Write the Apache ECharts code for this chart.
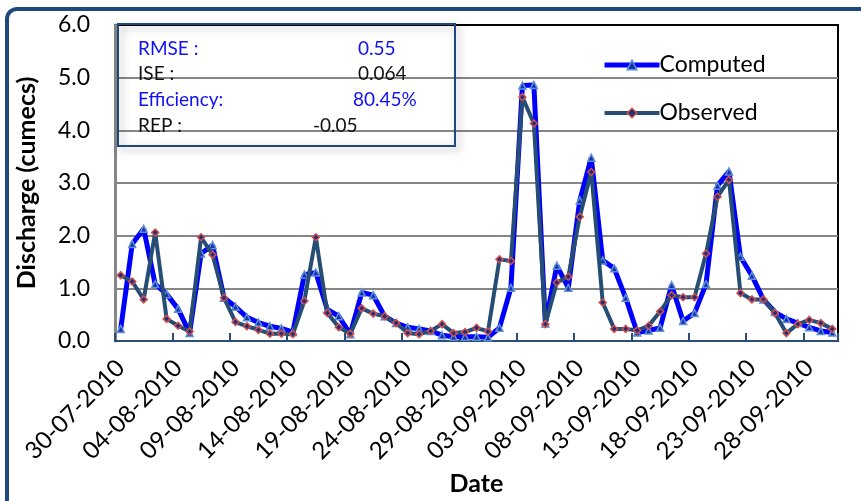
<!DOCTYPE html>
<html>
<head>
<meta charset="utf-8">
<script src="https://cdn.jsdelivr.net/npm/echarts@6/dist/echarts.min.js"></script>
<style>
html,body{margin:0;padding:0;background:#fff;}
#chart{width:861px;height:501px;}
</style>
</head>
<body>
<div id="chart"></div>
<script>
// Dates (categories): 30-07-2010 .. 30-09-2010
const categories = [
  '30-07-2010','31-07-2010',
  '01-08-2010','02-08-2010','03-08-2010','04-08-2010','05-08-2010','06-08-2010','07-08-2010','08-08-2010','09-08-2010','10-08-2010',
  '11-08-2010','12-08-2010','13-08-2010','14-08-2010','15-08-2010','16-08-2010','17-08-2010','18-08-2010','19-08-2010','20-08-2010',
  '21-08-2010','22-08-2010','23-08-2010','24-08-2010','25-08-2010','26-08-2010','27-08-2010','28-08-2010','29-08-2010','30-08-2010','31-08-2010',
  '01-09-2010','02-09-2010','03-09-2010','04-09-2010','05-09-2010','06-09-2010','07-09-2010','08-09-2010','09-09-2010','10-09-2010',
  '11-09-2010','12-09-2010','13-09-2010','14-09-2010','15-09-2010','16-09-2010','17-09-2010','18-09-2010','19-09-2010','20-09-2010',
  '21-09-2010','22-09-2010','23-09-2010','24-09-2010','25-09-2010','26-09-2010','27-09-2010','28-09-2010','29-09-2010','30-09-2010'
];

const computed = [
  0.23, 1.84, 2.13, 1.08, 0.89, 0.61, 0.15, 1.66, 1.82, 0.82,
  0.65, 0.45, 0.35, 0.28, 0.24, 0.17, 1.26, 1.30, 0.60, 0.47,
  0.13, 0.92, 0.87, 0.47, 0.34, 0.26, 0.23, 0.19, 0.11, 0.08,
  0.08, 0.08, 0.07, 0.25, 1.01, 4.85, 4.86, 0.33, 1.43, 1.01,
  2.67, 3.48, 1.53, 1.38, 0.82, 0.16, 0.20, 0.25, 1.06, 0.38,
  0.53, 1.08, 2.95, 3.22, 1.60, 1.24, 0.79, 0.55, 0.42, 0.34,
  0.26, 0.19, 0.16
];

const observed = [
  1.25, 1.13, 0.79, 2.06, 0.42, 0.29, 0.18, 1.97, 1.64, 0.82,
  0.36, 0.28, 0.21, 0.14, 0.14, 0.13, 0.76, 1.97, 0.53, 0.26,
  0.14, 0.62, 0.52, 0.47, 0.34, 0.15, 0.13, 0.19, 0.32, 0.15,
  0.17, 0.25, 0.18, 1.55, 1.52, 4.63, 4.13, 0.32, 1.11, 1.22,
  2.36, 3.21, 0.73, 0.23, 0.23, 0.20, 0.29, 0.56, 0.87, 0.83,
  0.83, 1.66, 2.74, 3.06, 0.91, 0.79, 0.79, 0.53, 0.15, 0.32,
  0.40, 0.34, 0.23
];

const seriesNames = ['Computed', 'Observed'];
const yTicks = [0, 1, 2, 3, 4, 5, 6];

const statLabels = ['RMSE :', 'ISE :', 'Efficiency:', 'REP :'];
const statValues = ['0.55', '0.064', '80.45%', '-0.05'];

const FONT = 'Lato';
const chart = echarts.init(document.getElementById('chart'), null, {renderer: 'canvas'});

const blueTxt = '#1010F0';
const statColors = [blueTxt, '#111', blueTxt, '#111'];
const statValueX = [358, 358, 353, 313];

const statGraphics = [];
statLabels.forEach((t, i) => {
  statGraphics.push({
    type: 'text', left: 138, top: 39 + i * 25.7, z: 20,
    style: {text: t, fill: statColors[i], font: '19px ' + FONT}
  });
  statGraphics.push({
    type: 'text', left: statValueX[i], top: 39 + i * 25.7, z: 20,
    style: {text: statValues[i], fill: statColors[i], font: '19px ' + FONT}
  });
});

const option = {
  animation: false,
  backgroundColor: '#ffffff',
  grid: {
    left: 115, top: 25, right: 23, bottom: 158,
    show: true, borderColor: '#000', borderWidth: 2, backgroundColor: 'transparent'
  },
  legend: {
    orient: 'vertical',
    left: 597, top: 46,
    itemWidth: 55, itemHeight: 12,
    itemGap: 20,
    data: [
      {name: seriesNames[0], lineStyle: {width: 5}, itemStyle: {borderWidth: 1.5}},
      {name: seriesNames[1], lineStyle: {width: 4}, itemStyle: {borderWidth: 1.5}}
    ],
    textStyle: {fontFamily: FONT, fontSize: 23, color: '#000', lineHeight: 28, padding: [0, 0, 0, -5]}
  },
  xAxis: {
    type: 'category',
    data: categories,
    boundaryGap: true,
    name: 'Date',
    nameLocation: 'middle',
    nameGap: 130,
    nameTextStyle: {fontFamily: FONT, fontSize: 25, fontWeight: 'bold', color: '#000'},
    axisLine: {lineStyle: {color: '#2C4D75', width: 2}},
    axisTick: {show: true, inside: true, length: 8, interval: 4, lineStyle: {color: '#2C4D75', width: 2}},
    axisLabel: {
      interval: 4, rotate: 45, margin: 23,
      fontFamily: FONT, fontSize: 24, color: '#000'
    },
    splitLine: {show: false}
  },
  yAxis: {
    type: 'value',
    min: 0, max: 6, interval: 1,
    name: 'Discharge (cumecs)',
    nameLocation: 'middle',
    nameGap: 76,
    nameTextStyle: {fontFamily: FONT, fontSize: 25, fontWeight: 'bold', color: '#000'},
    axisLine: {show: true, lineStyle: {color: '#868686', width: 3}},
    axisTick: {show: false},
    axisLabel: {
      margin: 25, fontFamily: FONT, fontSize: 23, color: '#000',
      formatter: v => yTicks.includes(v) ? v.toFixed(1) : ''
    },
    splitLine: {show: true, lineStyle: {color: ['#868686','#868686','#868686','#868686','#868686','#868686','#000'], width: 2}}
  },
  series: [
    {
      name: seriesNames[0],
      type: 'line',
      data: computed,
      symbol: 'triangle',
      symbolSize: 7,
      showAllSymbol: true,
      lineStyle: {color: '#0000FF', width: 5},
      itemStyle: {color: '#1A2FB0', borderColor: '#5B8FD6', borderWidth: 1.5},
      z: 3
    },
    {
      name: seriesNames[1],
      type: 'line',
      data: observed,
      symbol: 'diamond',
      symbolSize: 7,
      showAllSymbol: true,
      lineStyle: {color: '#264D74', width: 4},
      itemStyle: {color: '#1F2F7A', borderColor: '#D0504D', borderWidth: 1.5},
      z: 4
    }
  ],
  graphic: [
    {
      type: 'rect', z: -1, silent: true,
      shape: {x: 7, y: 9, width: 900, height: 600, r: 10},
      style: {fill: 'none', stroke: '#1F497D', lineWidth: 4}
    },
    {
      type: 'rect', z: 15, silent: true,
      shape: {x: 118, y: 24, width: 337, height: 122},
      style: {fill: 'none', stroke: '#1F497D', lineWidth: 2,
              shadowBlur: 8, shadowColor: 'rgba(0,0,0,0.35)', shadowOffsetX: 3, shadowOffsetY: 3}
    }
  ].concat(statGraphics)
};

chart.setOption(option);
</script>
</body>
</html>
